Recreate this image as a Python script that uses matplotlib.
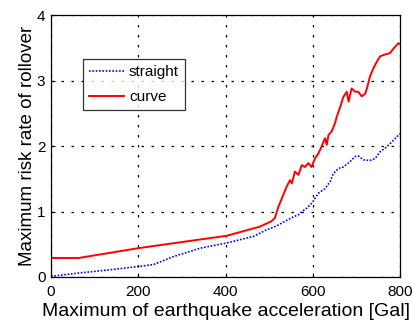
import matplotlib
matplotlib.use("Agg")
import matplotlib.pyplot as plt

red_x = [0, 63, 200, 403, 479, 505, 513, 521, 529, 540, 548, 552, 559, 567, 575, 582, 590, 597, 605, 613, 620, 628, 632, 636, 643, 651, 655, 663, 670, 678, 682, 689, 697, 704, 712, 720, 724, 731, 739, 747, 754, 766, 777, 785, 792, 796, 800]
red_y = [0.29, 0.29, 0.44, 0.63, 0.77, 0.85, 0.90, 1.07, 1.20, 1.38, 1.48, 1.43, 1.61, 1.56, 1.71, 1.68, 1.74, 1.68, 1.81, 1.89, 1.99, 2.12, 2.02, 2.17, 2.22, 2.35, 2.45, 2.60, 2.75, 2.83, 2.68, 2.88, 2.83, 2.83, 2.76, 2.80, 2.88, 3.06, 3.19, 3.29, 3.37, 3.40, 3.42, 3.49, 3.54, 3.57, 3.56]

blue_x = [0, 63, 135, 200, 235, 280, 342, 403, 464, 494, 517, 536, 556, 567, 575, 586, 598, 613, 628, 640, 647, 659, 670, 685, 697, 704, 716, 731, 743, 754, 770, 785, 800]
blue_y = [0.01, 0.06, 0.11, 0.16, 0.19, 0.31, 0.44, 0.52, 0.62, 0.72, 0.78, 0.85, 0.92, 0.95, 1.00, 1.05, 1.13, 1.28, 1.35, 1.46, 1.58, 1.66, 1.68, 1.76, 1.84, 1.85, 1.79, 1.78, 1.81, 1.91, 1.99, 2.09, 2.19]

xticks = [0, 200, 400, 600, 800]
yticks = [0, 1, 2, 3, 4]

plt.rcParams['font.family'] = ['Liberation Sans', 'DejaVu Sans']

fig = plt.figure(figsize=(4.12, 3.22), dpi=100)
ax = fig.add_axes([0.1238, 0.1398, 0.8472, 0.8132])

ax.plot(blue_x, blue_y, color='blue', linestyle=(0, (1, 1)), linewidth=1.2, label='straight')
ax.plot(red_x, red_y, color='red', linestyle='-', linewidth=1.4, label='curve')

ax.set_xlim(0, 800)
ax.set_ylim(0, 4)
ax.set_xticks(xticks)
ax.set_yticks(yticks)
ax.tick_params(direction='in', labelsize=11, length=3)
ax.tick_params(axis='x', pad=6)
ax.tick_params(axis='y', pad=4)
ax.grid(True, color='black', linestyle=(0, (2, 6)), linewidth=0.9)
for s in ax.spines.values():
    s.set_linewidth(0.9)

ax.set_xlabel('Maximum of earthquake acceleration [Gal]', fontsize=14, labelpad=2.5)
ax.set_ylabel('Maximum risk rate of rollover', fontsize=13.5, labelpad=1)

leg = ax.legend(loc='upper left', bbox_to_anchor=(0.092, 0.832), fontsize=11, frameon=True,
                fancybox=False, edgecolor='black', handlelength=2.3, handletextpad=0.3,
                borderpad=0.4, labelspacing=0.7, borderaxespad=0)
leg.get_frame().set_linewidth(0.9)

fig.savefig('out.png', dpi=100)
